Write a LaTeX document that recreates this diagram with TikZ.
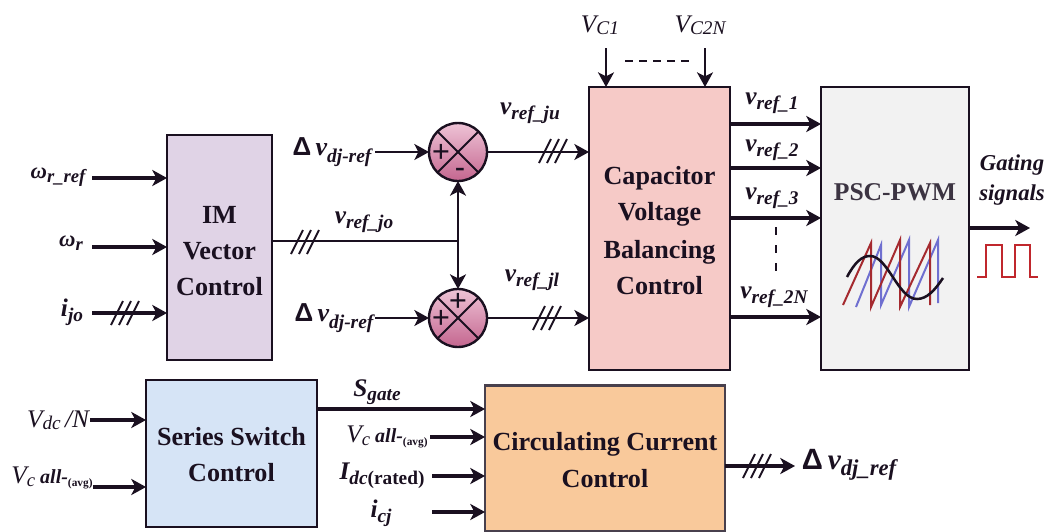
\documentclass[tikz,border=0pt]{standalone}
\usepackage{fontspec}
\setmainfont{Liberation Serif}
\newfontfamily\dfont{Liberation Sans}
\usetikzlibrary{arrows.meta,calc}
\newcommand\fs[1]{\fontsize{#1}{#1}\selectfont}
\newcommand\lb[2]{{\fs{19}\bfseries\itshape #1}\raisebox{-0.34em}{\fs{14.5}\bfseries\itshape #2}}
\newcommand\vv[2]{{\fs{19}\itshape #1}\raisebox{-0.12em}{\fs{14.5}\itshape #2}}
\newcommand\dv[3]{{\fs{#1}\dfont\bfseries\symbol{"0394}}{\fs{#1}\bfseries\itshape\,v}\raisebox{-0.48em}{\fs{#2}\bfseries\itshape #3}}
\newcommand\allavg{{\fs{19}\itshape V}\raisebox{-0.2em}{\fs{14}\itshape c}{\fs{15}\bfseries\itshape\ all-}\raisebox{-0.25em}{\fs{8.5}\bfseries(avg)}}
\newcommand\tslash[2]{\foreach \d in {-8,0,8}{\draw[thin line] ($(#1,#2)+(\d-6,12)$) -- ($(#1,#2)+(\d+6,-12)$);}}
\definecolor{imc}{HTML}{E0D3E6}
\definecolor{ssc}{HTML}{D6E4F6}
\definecolor{cvc}{HTML}{F6CAC7}
\definecolor{psc}{HTML}{F2F2F2}
\definecolor{ccc}{HTML}{F9C99B}
\definecolor{sumA}{HTML}{EEC3D6}
\definecolor{sumB}{HTML}{C4668F}
\definecolor{sawred}{HTML}{A52A2F}
\definecolor{sawblue}{HTML}{6F6FD0}
\definecolor{pulse}{HTML}{C0272D}
\definecolor{ink}{HTML}{1A1020}
\tikzset{
 x=0.75pt,y=-0.75pt,
 block/.style={draw=ink,line width=2.1pt,inner sep=0pt,outer sep=0pt,align=center,font=\fs{19.6}\bfseries,text=ink},
 lab/.style={inner sep=0pt,outer sep=0pt,text=ink},
 sumnode/.style={circle,draw=ink,line width=1.8pt,minimum size=43.5pt,inner sep=0pt,outer sep=0pt,top color=sumA,bottom color=sumB},
 thick line/.style={line width=2.4pt,draw=ink,-{Stealth[length=11pt,width=12pt,inset=3pt]}},
 mid line/.style={line width=1.7pt,draw=ink,-{Stealth[length=11pt,width=12pt,inset=3pt]}},
 plain line/.style={line width=1.6pt,draw=ink},
 thin line/.style={line width=1.4pt,draw=ink},
 sign/.style={inner sep=0pt,font=\fs{24}\bfseries,text=ink},
}
\begin{document}
\begin{tikzpicture}
\useasboundingbox (0,0) rectangle (1047,532);
\fill[white] (0,0) rectangle (1047,532);
% blocks
\node[block,fill=imc,minimum width=78.75pt,minimum height=168.75pt] (im) at (219.5,247.5) {\rule{0pt}{18pt}IM\\[7.5pt]Vector\\[7.5pt]Control};
\node[block,fill=cvc,minimum width=105.75pt,minimum height=212.25pt] (cv) at (659.5,228.5) {\rule{0pt}{17pt}Capacitor\\[7.5pt]Voltage\\[8.5pt]Balancing\\[7.5pt]Control};
\node[block,fill=psc,minimum width=111pt,minimum height=212.25pt] (pw) at (895,228.5) {};
\node[lab,font=\fs{19.2}\bfseries,text=ink!85] (pwt) at (895,192) {PSC-PWM};
\node[block,fill=ssc,minimum width=128.25pt,minimum height=110.25pt] (ss) at (231.5,453.5) {\rule{0pt}{15.5pt}Series Switch\\[7pt]Control};
\node[block,fill=ccc,minimum width=180pt,minimum height=109pt,draw=ink!80] (cc) at (605,458.5) {\rule{0pt}{16.5pt}Circulating Current\\[8pt]Control};
% summing junctions
\node[sumnode] (s1) at (458,152) {};
\node[sumnode] (s2) at (458,318) {};
\draw[thin line] (s1.north west) -- (s1.south east) (s1.north east) -- (s1.south west);
\draw[thin line] (s2.north west) -- (s2.south east) (s2.north east) -- (s2.south west);
\node[sign] (p1) at (441,153) {+};
\node[sign,font=\fs{22}\bfseries] (m1) at (460,172) {-};
\node[sign] (p2) at (441,319) {+};
\node[sign] (p3) at (458,302) {+};
% labels
\node[lab] (wref) at (58,177) {{\fs{17}\bfseries\itshape ω}\raisebox{-0.34em}{\fs{14}\bfseries\itshape r\_ref}};
\node[lab] (wr) at (71,243) {{\fs{17}\bfseries\itshape ω}\raisebox{-0.34em}{\fs{14}\bfseries\itshape r}};
\node[lab] (ijo) at (72,312) {\lb{i}{jo}};
\node[lab] (vjo) at (364,222) {\lb{v}{ref\_jo}};
\node[lab] (d1) at (332,152) {\dv{19.5}{14.6}{dj-ref}};
\node[lab] (d2) at (334,318) {\dv{19.5}{14.6}{dj-ref}};
\node[lab] (vju) at (530,113) {\lb{v}{ref\_ju}};
\node[lab] (vjl) at (532,280) {\lb{v}{ref\_jl}};
\node[lab] (vc1) at (600,25) {\vv{V}{C1}};
\node[lab] (vc2) at (700,25) {\vv{V}{C2N}};
\node[lab] (v1) at (772,103) {\lb{v}{ref\_1}};
\node[lab] (v2) at (772,150) {\lb{v}{ref\_2}};
\node[lab] (v3) at (772,198) {\lb{v}{ref\_3}};
\node[lab] (v4) at (774,297) {\lb{v}{ref\_2N}};
\node[lab,align=center,font=\fs{17}\bfseries\itshape] (gs) at (1012,180) {Gating\\[5.5pt]signals};
\node[lab] (vdc) at (58,420) {\vv{V}{dc}{\fs{19}\itshape\,/N}};
\node[lab] (va) at (52,478) {\allavg};
\node[lab] (sg) at (377,392) {\lb{S}{gate}};
\node[lab] (vb) at (387,437) {\allavg};
\node[lab] (id) at (382,476) {\lb{I}{dc}\raisebox{-0.34em}{\fs{14.5}\bfseries(rated)}};
\node[lab] (ic) at (381,513) {\lb{i}{cj}};
\node[lab] (dout) at (849,465) {\dv{22}{17}{dj\_ref}};
% free ends
\coordinate (a1) at (92,178); \coordinate (a2) at (92,247); \coordinate (a3) at (92,313);
\coordinate (b1) at (375,152); \coordinate (b2) at (375,318);
\coordinate (t1) at (606,48); \coordinate (t2) at (705,48);
\coordinate (e1) at (90,420); \coordinate (e2) at (93,487);
\coordinate (f2) at (430,437); \coordinate (f3) at (432,476); \coordinate (f4) at (432,512);
\coordinate (g1) at (1030,228); \coordinate (h1) at (795,466);
\coordinate (j) at (458,241);
% connectors
\draw[thick line] (a1) -- (a1 -| im.west);
\draw[thick line] (a2) -- (a2 -| im.west);
\draw[thick line] (a3) -- (a3 -| im.west);
\draw[plain line] (im.east |- j) -- (j);
\draw[mid line] (j) -- (s1.south);
\draw[mid line] (j) -- (s2.north);
\draw[mid line] (b1) -- (s1.west);
\draw[mid line] (b2) -- (s2.west);
\draw[mid line] (s1.east) -- (s1.east -| cv.west);
\draw[mid line] (s2.east) -- (s2.east -| cv.west);
\draw[mid line] (t1) -- (t1 |- cv.north);
\draw[mid line] (t2) -- (t2 |- cv.north);
\draw[plain line,dash pattern=on 6pt off 4.5pt] ($(t1)+(19,13)$) -- ($(t2)+(-10,13)$);
\foreach \n/\yy in {1/124,2/168,3/218,4/317}{
  \coordinate (r\n) at (775,\yy);
  \draw[thick line] (r\n -| cv.east) -- (r\n -| pw.west);
}
\draw[plain line,line width=1.9pt,dash pattern=on 6pt off 7.5pt] (776,227) -- (776,272);
\draw[thick line] (g1 -| pw.east) -- (g1);
\draw[thick line] (e1) -- (e1 -| ss.west);
\draw[thick line] (e2) -- (e2 -| ss.west);
\coordinate (f1) at (400,409);
\draw[thick line] (f1 -| ss.east) -- (f1 -| cc.west);
\draw[thick line] (f2) -- (f2 -| cc.west);
\draw[thick line] (f3) -- (f3 -| cc.west);
\draw[thick line] (f4) -- (f4 -| cc.west);
\draw[thick line] (h1 -| cc.east) -- (h1);
% triple slashes
\tslash{125}{313}
\tslash{305}{242}
\tslash{553}{151}
\tslash{547}{318}
\tslash{757}{466}
% saw-tooth carriers
\draw[line width=1.5pt,sawblue] (856,307) -- (881,245) -- (881,305) -- (909,240) -- (909,307) -- (938,240) -- (938,303);
\draw[line width=1.5pt,sawred] (843,305) -- (871,243) -- (871,307) -- (900,240) -- (900,307) -- (930,243) -- (930,305);
\draw[line width=1.9pt,ink] (847,277) .. controls (855,262) and (862,256) .. (870,256) .. controls (888,256) and (898,299) .. (917,299) .. controls (927,299) and (935,290) .. (943,278);
% pulse
\draw[line width=1.9pt,pulse] (977,277) -- (986,277) -- (986,245) -- (1002,245) -- (1002,277) -- (1015,277) -- (1015,245) -- (1030,245) -- (1030,277) -- (1038,277);
\end{tikzpicture}
\end{document}
